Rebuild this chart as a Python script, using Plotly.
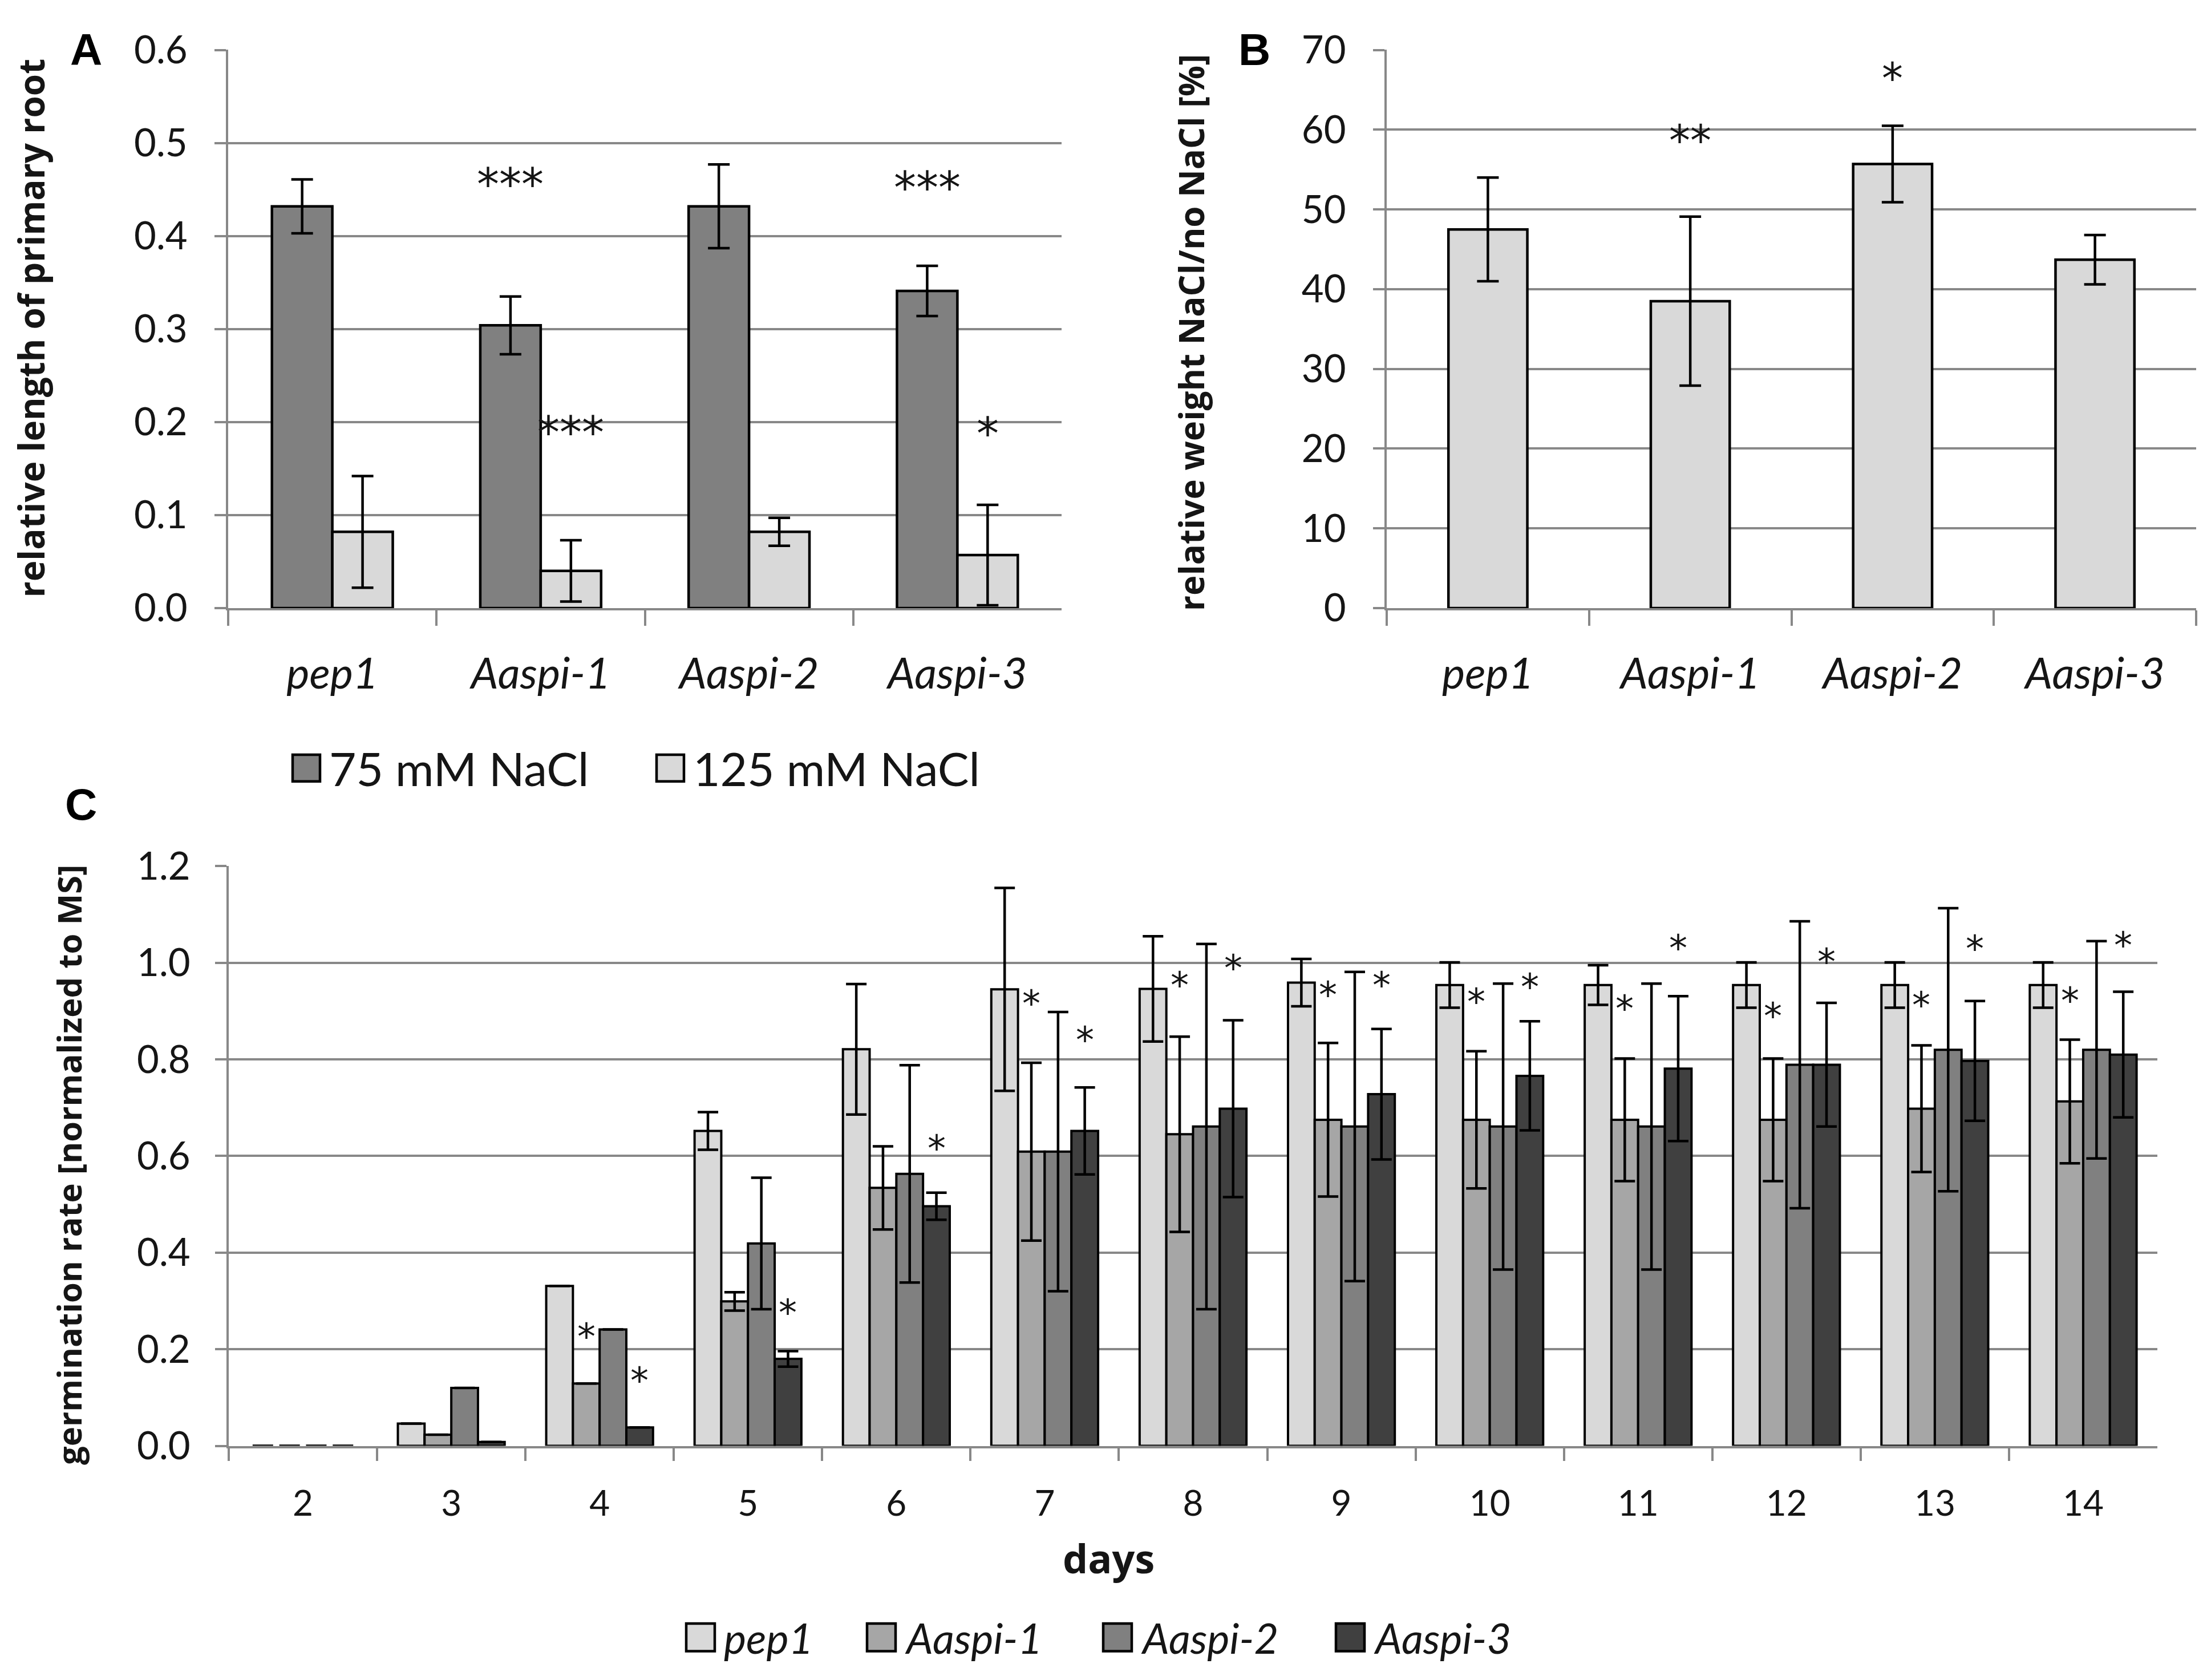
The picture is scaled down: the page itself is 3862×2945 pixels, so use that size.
import plotly.graph_objects as go

# ---- data -------------------------------------------------------------
strains = ["pep1", "Aaspi-1", "Aaspi-2", "Aaspi-3"]

# panel A: relative length of primary root
root_75 = [0.432, 0.304, 0.432, 0.341]
root_75_err = [0.029, 0.031, 0.045, 0.027]
root_125 = [0.082, 0.040, 0.082, 0.057]
root_125_err = [0.060, 0.033, 0.015, 0.054]
root_75_stars = ["", "***", "", "***"]
root_75_star_y = [None, 0.465, None, 0.461]
root_125_stars = ["", "***", "", "*"]
root_125_star_y = [None, 0.198, None, 0.197]

# panel B: relative weight NaCl / no NaCl
weight = [47.5, 38.5, 55.7, 43.7]
weight_err = [6.5, 10.6, 4.8, 3.1]
weight_stars = ["", "**", "*", ""]
weight_star_y = [None, 59.7, 67.5, None]

# panel C: germination rate
days = ["2", "3", "4", "5", "6", "7", "8", "9", "10", "11", "12", "13", "14"]
germ_pep1 = [0, 0.046, 0.331, 0.652, 0.821, 0.945, 0.946, 0.959, 0.954, 0.954, 0.954, 0.954, 0.954]
germ_pep1_err = [None, None, None, 0.039, 0.135, 0.210, 0.109, 0.049, 0.047, 0.041, 0.047, 0.047, 0.047]
germ_a1 = [0, 0.023, 0.129, 0.299, 0.534, 0.609, 0.645, 0.675, 0.675, 0.675, 0.675, 0.698, 0.713]
germ_a1_err = [None, None, None, 0.019, 0.086, 0.184, 0.202, 0.159, 0.142, 0.127, 0.127, 0.131, 0.128]
germ_a2 = [0, 0.120, 0.241, 0.419, 0.563, 0.609, 0.661, 0.661, 0.661, 0.661, 0.789, 0.820, 0.820]
germ_a2_err = [None, None, None, 0.136, 0.225, 0.289, 0.378, 0.320, 0.296, 0.296, 0.297, 0.293, 0.225]
germ_a3 = [0, 0.008, 0.038, 0.180, 0.496, 0.652, 0.698, 0.728, 0.766, 0.781, 0.789, 0.797, 0.810]
germ_a3_err = [None, None, None, 0.016, 0.028, 0.090, 0.183, 0.135, 0.113, 0.150, 0.128, 0.124, 0.130]
germ_a1_star_y = [None, None, 0.24, None, None, 0.93, 0.968, 0.948, 0.934, 0.92, 0.904, 0.927, 0.936]
germ_a3_star_y = [None, None, 0.15, 0.29, 0.63, 0.855, 1.003, 0.968, 0.965, 1.045, 1.017, 1.043, 1.051]

# ---- style ------------------------------------------------------------
W, H = 3862, 2945
GRID = "#888888"
TXT = "#151515"
FONT = "Lato"
TITLE_FONT = "Open Sans"
STAR_FONT = "DejaVu Sans"
LIGHT, MID1, MID2, DARK = "#d9d9d9", "#a6a6a6", "#808080", "#404040"


def fx(px):
    # pixel column -> paper x
    return px / W


def fy(py):
    # pixel row -> paper y
    return 1 - py / H


def err(vals, cap=19):
    return dict(type="data", array=vals, visible=True, color="black", thickness=4.5, width=cap)


fig = go.Figure()

# panel A
fig.add_trace(go.Bar(x=strains, y=root_75, error_y=err(root_75_err), width=0.29, offset=-0.29,
                     marker=dict(color=MID2, line=dict(color="black", width=4.5)),
                     xaxis="x", yaxis="y", showlegend=False))
fig.add_trace(go.Bar(x=strains, y=root_125, error_y=err(root_125_err), width=0.29, offset=0,
                     marker=dict(color=LIGHT, line=dict(color="black", width=4.5)),
                     xaxis="x", yaxis="y", showlegend=False))

# panel B
fig.add_trace(go.Bar(x=strains, y=weight, error_y=err(weight_err), width=0.39, offset=-0.195,
                     marker=dict(color=LIGHT, line=dict(color="black", width=4.5)),
                     xaxis="x2", yaxis="y2", showlegend=False))

# panel C (zero-height bars get no outline, like the original)
germ_series = [(germ_pep1, germ_pep1_err, LIGHT), (germ_a1, germ_a1_err, MID1),
               (germ_a2, germ_a2_err, MID2), (germ_a3, germ_a3_err, DARK)]
for k, (vals, errs, col) in enumerate(germ_series):
    outline = [0 if v == 0 else 4 for v in vals]
    fig.add_trace(go.Bar(x=days, y=vals, error_y=err(errs, 18), width=0.18, offset=-0.36 + 0.18 * k,
                         marker=dict(color=col, line=dict(color="black", width=outline)),
                         xaxis="x3", yaxis="y3", showlegend=False))

ann = []


def star(x, y, text, xref, yref, size):
    ann.append(dict(x=x, y=y, xref=xref, yref=yref, text=text, showarrow=False,
                    xanchor="center", yanchor="middle", yshift=-0.19 * size,
                    font=dict(family=STAR_FONT, size=size, color=TXT)))


for i in range(len(strains)):
    if root_75_stars[i]:
        star(i - 0.145, root_75_star_y[i], root_75_stars[i], "x", "y", 78)
    if root_125_stars[i]:
        star(i + 0.145, root_125_star_y[i], root_125_stars[i], "x", "y", 78)
    if weight_stars[i]:
        star(i, weight_star_y[i], weight_stars[i], "x2", "y2", 74)
for i in range(len(days)):
    if germ_a1_star_y[i] is not None:
        star(i - 0.09, germ_a1_star_y[i], "*", "x3", "y3", 64)
    if germ_a3_star_y[i] is not None:
        star(i + 0.27, germ_a3_star_y[i], "*", "x3", "y3", 64)


# axis titles
def vtitle(px, py, text, size):
    ann.append(dict(x=fx(px), y=fy(py), xref="paper", yref="paper", text="<b>%s</b>" % text,
                    showarrow=False, textangle=-90, xanchor="center", yanchor="middle",
                    font=dict(family=TITLE_FONT, size=size, color=TXT)))


vtitle(46, 540, "relative length of primary root", 62)
vtitle(2080, 548, "relative weight NaCl/no NaCl [%]", 60)
vtitle(112, 2047, "germination rate [normalized to MS]", 58)
ann.append(dict(x=fx(1936), y=fy(2755), xref="paper", yref="paper", text="<b>days</b>", showarrow=False,
                xanchor="center", yanchor="middle", font=dict(family=TITLE_FONT, size=70, color=TXT)))

# panel letters
for letter, lx, ly in [("A", 143, 38), ("B", 2191, 38), ("C", 134, 1398)]:
    ann.append(dict(x=fx(lx), y=fy(ly), xref="paper", yref="paper", text="<b>%s</b>" % letter,
                    showarrow=False, xanchor="center", yanchor="middle",
                    font=dict(family="Liberation Sans", size=78, color="black")))

# legends drawn as key squares + labels
shapes = []


def legend_item(px, py, col, label, size, italic, sq=48):
    shapes.append(dict(type="rect", xref="paper", yref="paper", x0=fx(px), x1=fx(px + sq),
                       y0=fy(py + sq / 2), y1=fy(py - sq / 2), fillcolor=col,
                       line=dict(color="black", width=4.5)))
    ann.append(dict(x=fx(px + sq + 14), y=fy(py), xref="paper", yref="paper", text=label, showarrow=False,
                    xanchor="left", yanchor="middle",
                    font=dict(family=FONT, size=size, color=TXT, style="italic" if italic else "normal")))


legend_item(505, 1332, MID2, "75 mM NaCl", 82, False)
legend_item(1143, 1332, LIGHT, "125 mM NaCl", 82, False)
for lx, col, label in [(1195, LIGHT, strains[0]), (1512, MID1, strains[1]),
                       (1926, MID2, strains[2]), (2334, DARK, strains[3])]:
    legend_item(lx, 2898, col, label, 74, True, 50)

xcommon = dict(type="category", showline=True, linecolor=GRID, linewidth=4, ticks="outside",
               tickson="boundaries", tickwidth=4, tickcolor=GRID, showgrid=False, zeroline=False)
ycommon = dict(showgrid=True, gridcolor=GRID, gridwidth=4, showline=True, linecolor=GRID,
               linewidth=4, ticks="outside", ticklen=20, tickwidth=4, tickcolor=GRID,
               zeroline=False, tickfont=dict(family=FONT, size=67, color=TXT))

fig.update_layout(
    width=W, height=H,
    margin=dict(l=0, r=0, t=0, b=0),
    paper_bgcolor="white", plot_bgcolor="white",
    showlegend=False,
    xaxis=dict(domain=[fx(392), fx(1853)], anchor="y", range=[-0.5, 3.5], ticklen=27, **xcommon,
               tickfont=dict(family=FONT, size=76, color=TXT, style="italic"), ticklabelstandoff=46),
    yaxis=dict(domain=[fy(1044), fy(38)], anchor="x", range=[0, 0.6005], dtick=0.1, tickformat=".1f",
               ticklabelstandoff=34, **ycommon),
    xaxis2=dict(domain=[fx(2423), fx(3842)], anchor="y2", range=[-0.5, 3.5], ticklen=27, **xcommon,
                tickfont=dict(family=FONT, size=76, color=TXT, style="italic"), ticklabelstandoff=46),
    yaxis2=dict(domain=[fy(1044), fy(38)], anchor="x2", range=[0, 70.05], dtick=10,
                ticklabelstandoff=34, **ycommon),
    xaxis3=dict(domain=[fx(393), fx(3774)], anchor="y3", range=[-0.5, 12.5], ticklen=22, **xcommon,
                tickfont=dict(family=FONT, size=62, color=TXT), ticklabelstandoff=44),
    yaxis3=dict(domain=[fy(2553), fy(1508)], anchor="x3", range=[0, 1.201], dtick=0.2, tickformat=".1f",
                ticklabelstandoff=30, **ycommon),
    annotations=ann,
    shapes=shapes,
)

fig.write_html("out.html")
